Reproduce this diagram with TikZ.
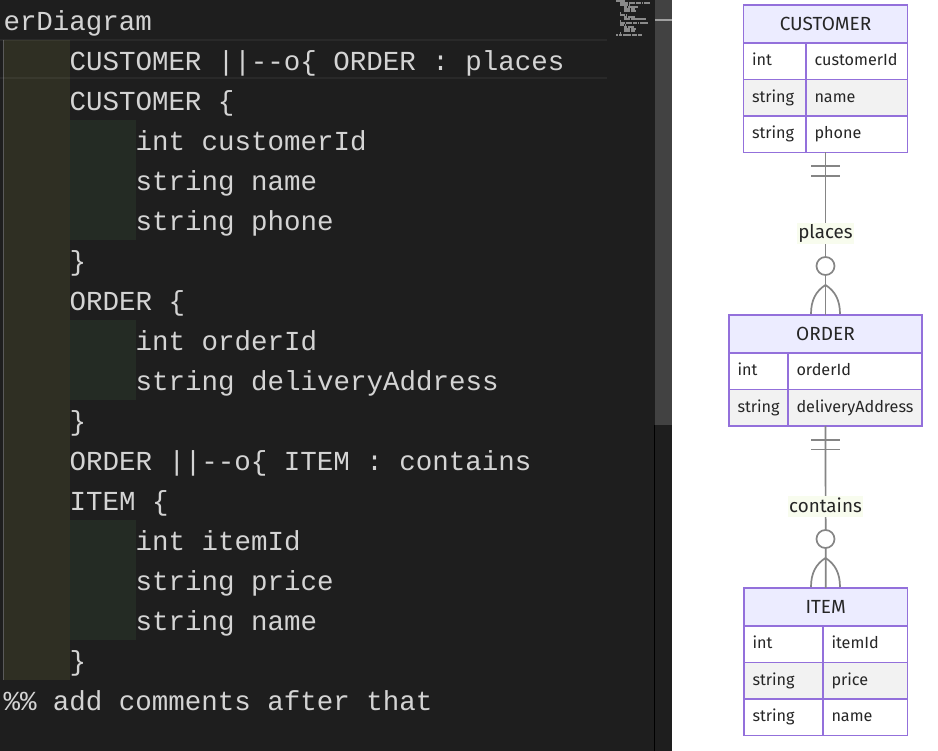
\documentclass[tikz,border=0pt]{standalone}
\usepackage{fontspec}
\setmonofont{Liberation Mono}
\newfontfamily\erfont{Fira Sans}
\usetikzlibrary{fit}
\definecolor{edbg}{HTML}{1E1E1E}
\definecolor{edtext}{HTML}{D4D4D4}
\definecolor{indone}{HTML}{2F2F23}
\definecolor{indtwo}{HTML}{242B24}
\definecolor{guidecol}{HTML}{5A5A5A}
\definecolor{slidercol}{HTML}{424242}
\definecolor{markercol}{HTML}{A0A0A0}
\definecolor{mmapcol}{HTML}{8A8A8A}
\definecolor{erpurple}{HTML}{9370DB}
\definecolor{erhead}{HTML}{ECECFF}
\definecolor{errow}{HTML}{F2F2F2}
\definecolor{ertext}{HTML}{262626}
\definecolor{relline}{HTML}{858585}
\definecolor{lblbg}{HTML}{F8FCEE}
\begin{document}
\begin{tikzpicture}[x=1pt,y=-1pt,
  code/.style={anchor=base west, inner sep=0pt, outer sep=0pt, text=edtext,
    font=\ttfamily\fontsize{27.5}{33}\selectfont},
  ehead/.style={draw=erpurple, fill=erhead, line width=1.8pt, anchor=north west,
    inner sep=0pt, outer sep=0pt, minimum height=38pt, text=ertext,
    font=\erfont\fontsize{19}{22}\selectfont, text height=12.5pt, text depth=0pt},
  ecell/.style={draw=erpurple, line width=1.8pt, anchor=north west, inner xsep=8.5pt,
    inner ysep=0pt, outer sep=0pt, minimum height=36.5pt, text=ertext, align=left,
    font=\erfont\fontsize{16.2}{19}\selectfont, text height=9pt, text depth=0pt},
  oddrow/.style={ecell, fill=white},
  evenrow/.style={ecell, fill=errow},
  entbox/.style={draw=erpurple, line width=1.8pt, inner sep=0pt, outer sep=0pt},
  rel/.style={draw=relline, line width=1.7pt},
  rlabel/.style={fill=lblbg, text=ertext, inner xsep=1.5pt, inner ysep=5pt,
    font=\erfont\fontsize{18.8}{22}\selectfont, text height=11pt, text depth=0pt},
  zero/.style={circle, draw=relline, fill=white, line width=1.7pt, minimum size=18pt, inner sep=0pt}
]
\useasboundingbox (0,0) rectangle (938,751);
% editor background and right panel
\fill[edbg] (0,0) rectangle (672,751);
\fill[white] (672,0) rectangle (938,751);
% indentation highlight
\fill[indone] (3.5,40) rectangle (69.5,680);
\fill[indtwo] (69.5,120) rectangle (135.5,240);
\fill[indtwo] (69.5,320) rectangle (135.5,400);
\fill[indtwo] (69.5,520) rectangle (135.5,640);
\draw[guidecol, line width=1pt] (3.5,40) -- (3.5,680);
% current line border
\fill[white, opacity=0.05] (0,39.5) rectangle (607,41.5);
\fill[white, opacity=0.05] (0,77.5) rectangle (607,79.5);
% minimap
\foreach \i/\c/\l in {0/0/9, 1/4/8, 1/13/6, 1/20/5, 1/26/1, 1/28/6, 2/4/8, 2/13/1,
  3/8/3, 3/12/10, 4/8/6, 4/15/4, 5/8/6, 5/15/5, 6/4/1, 7/4/5, 7/10/1, 8/8/3, 8/12/7,
  9/8/6, 9/15/15, 10/4/1, 11/4/5, 11/10/6, 11/17/4, 11/22/1, 11/24/8, 12/4/4, 12/9/1,
  13/8/3, 13/12/6, 14/8/6, 14/15/5, 15/8/6, 15/15/4, 16/4/1, 17/0/2, 17/3/3, 17/7/8,
  17/16/5, 17/22/4}
  \fill[mmapcol] ({616+\c},{2*\i+0.3}) rectangle ++(\l,1.4);
% scrollbar
\fill[slidercol] (654.5,0) rectangle (672,425);
\fill[black] (654,425) rectangle (655,751);
\fill[markercol] (655,19.5) rectangle (672,21.5);
% code
\node[code] (l0) at (3.5,30.5) {erDiagram};
\node[code] (l1) at (69.5,70.5) {CUSTOMER ||-\kern0pt-o\{ ORDER : places};
\node[code] (l2) at (69.5,110.5) {CUSTOMER \{};
\node[code] (l3) at (135.5,150.5) {int customerId};
\node[code] (l4) at (135.5,190.5) {string name};
\node[code] (l5) at (135.5,230.5) {string phone};
\node[code] (l6) at (69.5,270.5) {\}};
\node[code] (l7) at (69.5,310.5) {ORDER \{};
\node[code] (l8) at (135.5,350.5) {int orderId};
\node[code] (l9) at (135.5,390.5) {string deliveryAddress};
\node[code] (l10) at (69.5,430.5) {\}};
\node[code] (l11) at (69.5,470.5) {ORDER ||-\kern0pt-o\{ ITEM : contains};
\node[code] (l12) at (69.5,510.5) {ITEM \{};
\node[code] (l13) at (135.5,550.5) {int itemId};
\node[code] (l14) at (135.5,590.5) {string price};
\node[code] (l15) at (135.5,630.5) {string name};
\node[code] (l16) at (69.5,670.5) {\}};
\node[code] (l17) at (3.5,710.5) {\%\% add comments after that};
% CUSTOMER
\node[ehead, minimum width=164pt] (cuh) at (743.5,5) {CUSTOMER};
\node[oddrow, text width=45.5pt] (cu1t) at (743.5,43) {int};
\node[oddrow, text width=84.5pt] (cu1n) at (806,43) {customerId};
\node[evenrow, text width=45.5pt] (cu2t) at (743.5,79.5) {string};
\node[evenrow, text width=84.5pt] (cu2n) at (806,79.5) {name};
\node[oddrow, text width=45.5pt] (cu3t) at (743.5,116) {string};
\node[oddrow, text width=84.5pt] (cu3n) at (806,116) {phone};
\node[entbox, fit=(cuh)(cu3n)] (customer) {};
% ORDER
\node[ehead, minimum width=193pt] (orh) at (729,315) {ORDER};
\node[oddrow, text width=42pt] (or1t) at (729,353) {int};
\node[oddrow, text width=117pt] (or1n) at (788,353) {orderId};
\node[evenrow, text width=42pt] (or2t) at (729,389.5) {string};
\node[evenrow, text width=117pt] (or2n) at (788,389.5) {deliveryAddress};
\node[entbox, fit=(orh)(or2n)] (order) {};
% ITEM
\node[ehead, minimum width=163.5pt] (ith) at (744,588) {ITEM};
\node[oddrow, text width=62pt] (it1t) at (744,626) {int};
\node[oddrow, text width=67.5pt] (it1n) at (823,626) {itemId};
\node[evenrow, text width=62pt] (it2t) at (744,662.5) {string};
\node[evenrow, text width=67.5pt] (it2n) at (823,662.5) {price};
\node[oddrow, text width=62pt] (it3t) at (744,699) {string};
\node[oddrow, text width=67.5pt] (it3n) at (823,699) {name};
\node[entbox, fit=(ith)(it3n)] (item) {};
% CUSTOMER ||--o{ ORDER
\draw[rel] (customer.south) -- (order.north);
\draw[rel] (811,166) -- (840,166);
\draw[rel] (811,176) -- (840,176);
\node[rlabel] (places) at (825.5,233.5) {places};
\node[zero] (zo1) at (825.5,266) {};
\draw[rel] (825.5,285) .. controls (816,291) and (811,300) .. (811,314);
\draw[rel] (825.5,285) .. controls (835,291) and (840,300) .. (840,314);
% ORDER ||--o{ ITEM
\draw[rel] (order.south) -- (item.north);
\draw[rel] (811,440) -- (840,440);
\draw[rel] (811,449.5) -- (840,449.5);
\node[rlabel] (contains) at (825.5,506.5) {contains};
\node[zero] (zo2) at (825.5,539) {};
\draw[rel] (825.5,558) .. controls (816,564) and (811,573) .. (811,587);
\draw[rel] (825.5,558) .. controls (835,564) and (840,573) .. (840,587);
\end{tikzpicture}
\end{document}
